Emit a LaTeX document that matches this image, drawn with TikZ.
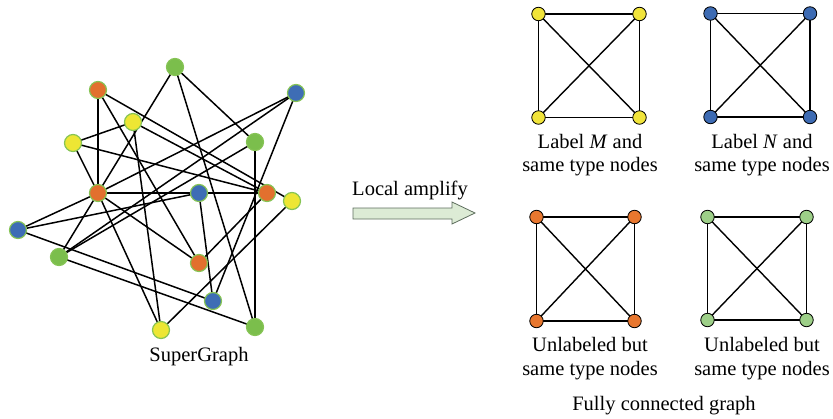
\documentclass[tikz,border=0pt]{standalone}
\usepackage{fontspec}
\setmainfont{Liberation Serif}
\usetikzlibrary{backgrounds}
\definecolor{cOrange}{HTML}{E2702E}
\definecolor{cYellow}{HTML}{EDE634}
\definecolor{cBlue}{HTML}{3E6DB5}
\definecolor{cGreen}{HTML}{7BBE4C}
\definecolor{cRim}{HTML}{86C455}
\definecolor{kOrange}{HTML}{E8772F}
\definecolor{kYellow}{HTML}{F1E43A}
\definecolor{kBlue}{HTML}{3D6BB3}
\definecolor{kGreen}{HTML}{9DCF88}
\definecolor{arrowFill}{HTML}{DCEBD5}
\definecolor{arrowRim}{HTML}{5E6E5E}
\begin{document}
\begin{tikzpicture}[x=1pt,y=-1pt,
  sg/.style={circle,draw=cRim,line width=1.2pt,minimum size=17pt,inner sep=0pt},
  kn/.style={circle,draw=black,line width=0.8pt,minimum size=13.5pt,inner sep=0pt},
  sgedge/.style={line width=1.5pt,black},
  kedge/.style={line width=1.4pt,black},
  lbl/.style={anchor=base,inner sep=0pt,font=\fontsize{20.5}{24}\selectfont}]
\useasboundingbox (0,0) rectangle (833,418);

% ---- SuperGraph nodes ----
\node[sg,fill=cGreen]  (G1) at (175,67)  {};
\node[sg,fill=cOrange] (O1) at (98,90)   {};
\node[sg,fill=cBlue]   (B1) at (296,93)  {};
\node[sg,fill=cYellow] (Y1) at (133,122) {};
\node[sg,fill=cYellow] (Y2) at (73,143)  {};
\node[sg,fill=cGreen]  (G2) at (255,142) {};
\node[sg,fill=cOrange] (O2) at (98,193)  {};
\node[sg,fill=cBlue]   (B2) at (199,193) {};
\node[sg,fill=cOrange] (O3) at (267,193) {};
\node[sg,fill=cYellow] (Y3) at (292,201) {};
\node[sg,fill=cBlue]   (B3) at (18,230)  {};
\node[sg,fill=cGreen]  (G3) at (59,257)  {};
\node[sg,fill=cOrange] (O4) at (199,263) {};
\node[sg,fill=cBlue]   (B4) at (213,301) {};
\node[sg,fill=cYellow] (Y4) at (161,330) {};
\node[sg,fill=cGreen]  (G4) at (255,327) {};

\begin{scope}[on background layer]
  \foreach \a/\b in {O1/O2,O1/O4,O1/Y3,
                     Y2/Y1,Y2/O2,Y2/O3,
                     Y1/O3,Y1/Y4,
                     G1/O2,G1/G2,G1/G4,
                     G2/G4,G2/G3,
                     B1/O2,B1/G3,B1/B4,
                     O2/B2,B2/O3,O2/B3,O2/G3,O2/O4,O2/Y4,
                     B3/B2,B3/B4,G3/G4,
                     O4/O3,B2/B4,Y3/Y4}
    \draw[sgedge] (\a.center) -- (\b.center);
\end{scope}

\node[lbl] (sgname) at (199,361) {SuperGraph};

% ---- amplify arrow ----
\node[lbl] (amp) at (410,195) {Local amplify};
\draw[arrowRim,fill=arrowFill,line width=0.8pt,line join=miter]
  (353,208) -- (452,208) -- (452,202) -- (475,213) -- (452,224)
  -- (452,219) -- (353,219) -- cycle;

% ---- fully connected graphs ----
\newcommand{\kfour}[6]{%
  \node[kn,fill=#6] (#1a) at (#2,#3) {};
  \node[kn,fill=#6] (#1b) at (#4,#3) {};
  \node[kn,fill=#6] (#1c) at (#2,#5) {};
  \node[kn,fill=#6] (#1d) at (#4,#5) {};
  \begin{scope}[on background layer]
    \draw[kedge] (#1a.center) -- (#1b.center) -- (#1d.center) -- (#1c.center) -- cycle;
    \draw[kedge] (#1a.center) -- (#1d.center);
    \draw[kedge] (#1b.center) -- (#1c.center);
  \end{scope}}
\kfour{ky}{538.5}{14}{639.5}{117.5}{kYellow}
\kfour{kb}{710.5}{13.5}{810}{117}{kBlue}
\kfour{ko}{536.5}{217}{634.5}{321}{kOrange}
\kfour{kg}{707.5}{217}{806.5}{320}{kGreen}

\node[lbl] (ly1) at (590,148.5) {Label \textit{M} and};
\node[lbl] (ly2) at (590,171) {same type nodes};
\node[lbl] (lb1) at (762,148.5) {Label \textit{N} and};
\node[lbl] (lb2) at (762,171) {same type nodes};
\node[lbl] (lo1) at (590,351) {Unlabeled but};
\node[lbl] (lo2) at (590,375) {same type nodes};
\node[lbl] (lg1) at (762,351) {Unlabeled but};
\node[lbl] (lg2) at (762,375) {same type nodes};
\node[lbl] (fcg) at (664,410) {Fully connected graph};
\end{tikzpicture}
\end{document}
